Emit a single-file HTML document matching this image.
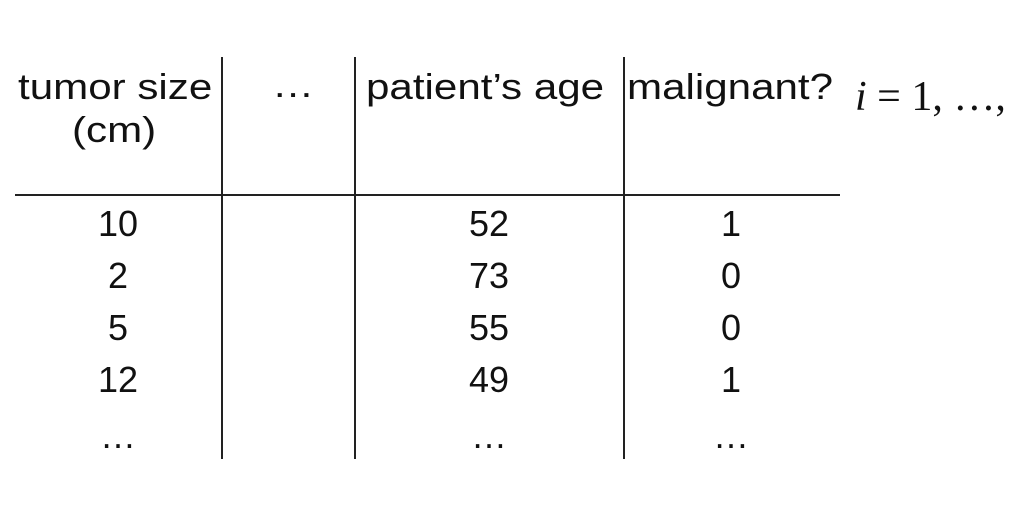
<!DOCTYPE html>
<html><head><meta charset="utf-8"><style>
body{margin:0;width:1023px;height:509px;background:#fff;position:relative;overflow:hidden;font-family:"Liberation Sans",sans-serif;color:#111}
.t{position:absolute;white-space:nowrap;line-height:1}
.h{font-size:36px;transform:scaleX(1.17);transform-origin:0 0}
.d{font-size:36px;transform:translateX(-50%)}
.v{position:absolute;width:2px;background:#222;top:57px;height:402px}
</style></head><body>
<div class="v" style="left:221px"></div>
<div class="v" style="left:354px"></div>
<div class="v" style="left:623px"></div>
<div style="position:absolute;left:15px;top:194px;width:825px;height:2px;background:#222"></div>

<div class="t h" style="left:18px;top:69px">tumor size</div>
<div class="t h" style="left:72px;top:112px">(cm)</div>
<div class="t h" style="left:272px;top:67px">…</div>
<div class="t h" style="left:366px;top:69px">patient’s age</div>
<div class="t h" style="left:627px;top:69px">malignant?</div>
<div class="t" style="left:855px;top:76px;font-family:'Liberation Serif',serif;font-size:42px"><i>i</i> = 1, …,</div>

<div id="rows"></div>
<script>
const col1=["10","2","5","12","…"];
const col2=["52","73","55","49","…"];
const col3=["1","0","0","1","…"];
const xs=[118,489,731];
const ys=[206,258,310,362,418];
[col1,col2,col3].forEach((c,ci)=>c.forEach((v,ri)=>{
 const el=document.createElement('div');
 el.className='t d';
 el.style.left=xs[ci]+'px';el.style.top=ys[ri]+'px';
 el.textContent=v;
 
 
 document.body.appendChild(el);
}));
</script>
</body></html>
